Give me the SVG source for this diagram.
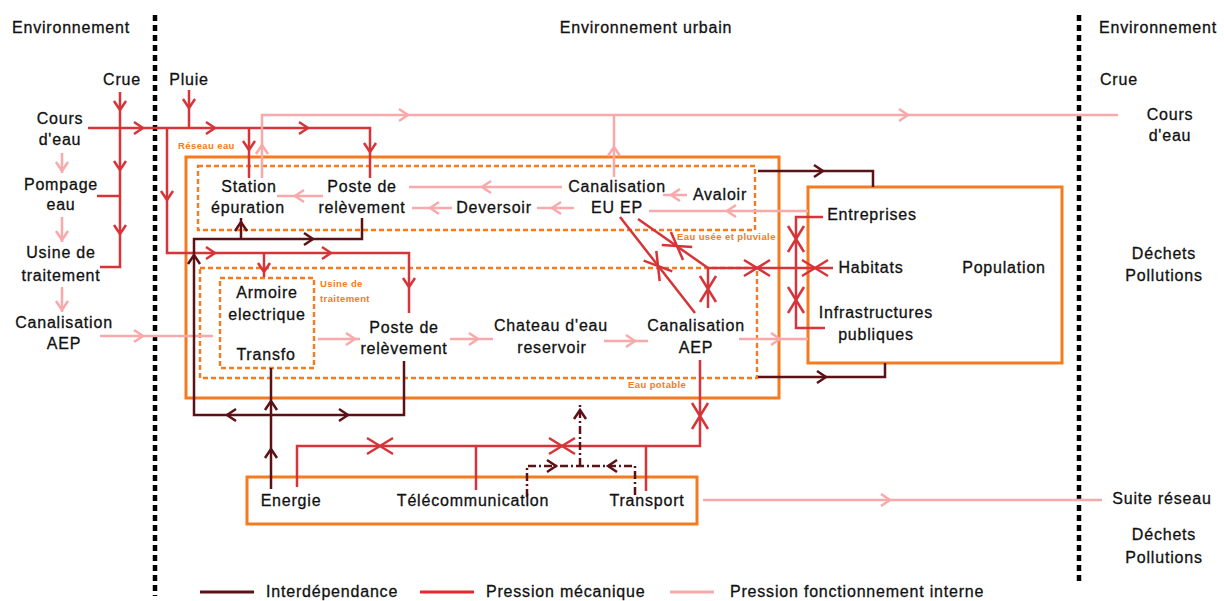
<svg xmlns="http://www.w3.org/2000/svg" width="1224" height="601" viewBox="0 0 1224 601">
<style>
text{font-family:"Liberation Sans",Arial,sans-serif;font-size:16px;letter-spacing:0.8px;fill:#111;stroke:#111;stroke-width:0.3px}
.m{text-anchor:middle}
.o{font-size:9.5px;font-weight:bold;fill:#f47b20;stroke:none;letter-spacing:0.4px}
.box{fill:none;stroke:#f47b20;stroke-width:3}
.dbox{fill:none;stroke:#f47b20;stroke-width:2.4;stroke-dasharray:5 3}
.r{fill:none;stroke:#d7343a;stroke-width:2.5}
.p{fill:none;stroke:#f8a9a9;stroke-width:2.5}
.d{fill:none;stroke:#5c1116;stroke-width:2.5}
.dd{stroke-dasharray:8 3 2 3}
.sep{fill:none;stroke:#000;stroke-width:4.5;stroke-dasharray:6 4}
</style>
<defs>
<path id="a" d="M-9,-6 L0,0 L-9,6"/>
<path id="x" d="M-13,-8 L13,8 M-13,8 L13,-8"/>
</defs>

<g id="separators">
<line class="sep" x1="155" y1="15" x2="155" y2="596"/>
<line class="sep" x1="1079" y1="15" x2="1079" y2="582"/>
</g>

<g id="zone-titles">
<text x="12" y="33">Environnement</text>
<text class="m" x="646" y="33">Environnement urbain</text>
<text x="1099" y="33">Environnement</text>
</g>

<g id="reseau-eau">
<rect class="box" x="186" y="157" width="593" height="241"/>
<text class="o" x="178" y="149">Réseau eau</text>
</g>
<g id="eau-usee">
<rect class="dbox" x="198" y="166" width="557" height="64"/>
<text class="o" x="677" y="240">Eau usée et pluviale</text>
</g>
<g id="eau-potable">
<rect class="dbox" x="200" y="268" width="557" height="110"/>
<text class="o" x="628" y="388">Eau potable</text>
</g>
<g id="usine-box">
<rect class="dbox" x="220" y="278" width="94" height="90"/>
<text class="o" x="320" y="287">Usine de</text>
<text class="o" x="320" y="302">traitement</text>
</g>
<g id="population-box">
<rect class="box" x="808" y="187" width="254" height="176"/>
</g>
<g id="services-box">
<rect class="box" x="247" y="477" width="450" height="47"/>
</g>

<g id="connectors">
<!-- pression mécanique -->
<path class="r" d="M88,128 H370 V178"/>
<path class="r" d="M249,128 V178"/>
<path class="r" d="M189,90 V128"/>
<path class="r" d="M120,92 V267 H100"/>
<path class="r" d="M97,196 H120"/>
<path class="r" d="M167,128 V253 H409 V313"/>
<path class="r" d="M264,253 V277"/>
<path class="r" d="M620,217 L695,313"/>
<path class="r" d="M638,219 L708,268 H833"/>
<path class="r" d="M708,268 V308"/>
<path class="r" d="M823,217 H796 V328 H825"/>
<path class="r" d="M700,360 V446 H297 V487"/>
<path class="r" d="M476,446 V490"/>
<path class="r" d="M646,446 V491"/>
<use href="#a" class="r" transform="translate(143,128)"/>
<use href="#a" class="r" transform="translate(215,128)"/>
<use href="#a" class="r" transform="translate(308,128)"/>
<use href="#a" class="r" transform="translate(370,152) rotate(90)"/>
<use href="#a" class="r" transform="translate(249,150) rotate(90)"/>
<use href="#a" class="r" transform="translate(189,108) rotate(90)"/>
<use href="#a" class="r" transform="translate(120,110) rotate(90)"/>
<use href="#a" class="r" transform="translate(120,170) rotate(90)"/>
<use href="#a" class="r" transform="translate(120,234) rotate(90)"/>
<use href="#a" class="r" transform="translate(167,200) rotate(90)"/>
<use href="#a" class="r" transform="translate(215,253)"/>
<use href="#a" class="r" transform="translate(331,253)"/>
<use href="#a" class="r" transform="translate(409,287) rotate(90)"/>
<use href="#a" class="r" transform="translate(264,272) rotate(90)"/>
<use href="#x" class="r" transform="translate(658,266) rotate(52)"/>
<use href="#x" class="r" transform="translate(677,246) rotate(35)"/>
<use href="#x" class="r" transform="translate(757,268)"/>
<use href="#x" class="r" transform="translate(815,268)"/>
<use href="#x" class="r" transform="translate(708,289) rotate(90)"/>
<use href="#x" class="r" transform="translate(796,239) rotate(90)"/>
<use href="#x" class="r" transform="translate(796,300) rotate(90)"/>
<use href="#x" class="r" transform="translate(700,416) rotate(90)"/>
<use href="#x" class="r" transform="translate(380,446)"/>
<use href="#x" class="r" transform="translate(562,446)"/>

<!-- pression fonctionnement interne -->
<path class="p" d="M262,178 V115 H1118"/>
<path class="p" d="M614,177 V115"/>
<path class="p" d="M687,195 H663"/>
<path class="p" d="M808,211 H649"/>
<path class="p" d="M562,187 H409"/>
<path class="p" d="M574,208 H537"/>
<path class="p" d="M452,208 H412"/>
<path class="p" d="M323,196 H277"/>
<path class="p" d="M62,153 V173 M62,217 V242 M62,287 V312"/>
<path class="p" d="M100,336 H213"/>
<path class="p" d="M318,339 H360"/>
<path class="p" d="M450,339 H493"/>
<path class="p" d="M604,341 H648"/>
<path class="p" d="M739,339 H808"/>
<path class="p" d="M703,500 H1102"/>
<use href="#a" class="p" transform="translate(262,145) rotate(-90)"/>
<use href="#a" class="p" transform="translate(614,147) rotate(-90)"/>
<use href="#a" class="p" transform="translate(408,115)"/>
<use href="#a" class="p" transform="translate(908,115)"/>
<use href="#a" class="p" transform="translate(671,195) rotate(180)"/>
<use href="#a" class="p" transform="translate(727,211) rotate(180)"/>
<use href="#a" class="p" transform="translate(482,187) rotate(180)"/>
<use href="#a" class="p" transform="translate(552,208) rotate(180)"/>
<use href="#a" class="p" transform="translate(430,208) rotate(180)"/>
<use href="#a" class="p" transform="translate(295,196) rotate(180)"/>
<use href="#a" class="p" transform="translate(62,171) rotate(90)"/>
<use href="#a" class="p" transform="translate(62,240) rotate(90)"/>
<use href="#a" class="p" transform="translate(62,310) rotate(90)"/>
<use href="#a" class="p" transform="translate(143,336)"/>
<use href="#a" class="p" transform="translate(355,339)"/>
<use href="#a" class="p" transform="translate(478,339)"/>
<use href="#a" class="p" transform="translate(635,341)"/>
<use href="#a" class="p" transform="translate(780,339)"/>
<use href="#a" class="p" transform="translate(890,500)"/>

<!-- interdépendance -->
<path class="d" d="M241,218 V239"/>
<path class="d" d="M362,218 V239 H194 V415 H404 V361"/>
<path class="d" d="M271,489 V368"/>
<path class="d" d="M758,171 H873 V187"/>
<path class="d" d="M758,377 H885 V363"/>
<path class="d dd" d="M527,497 V466 H635 V497 M580,466 V403"/>
<use href="#a" class="d" transform="translate(241,222) rotate(-90)"/>
<use href="#a" class="d" transform="translate(313,239)"/>
<use href="#a" class="d" transform="translate(194,255) rotate(-90)"/>
<use href="#a" class="d" transform="translate(227,415) rotate(180)"/>
<use href="#a" class="d" transform="translate(348,415)"/>
<use href="#a" class="d" transform="translate(271,401) rotate(-90)"/>
<use href="#a" class="d" transform="translate(271,449) rotate(-90)"/>
<use href="#a" class="d" transform="translate(823,171)"/>
<use href="#a" class="d" transform="translate(826,377)"/>
<use href="#a" class="d" transform="translate(556,466)"/>
<use href="#a" class="d" transform="translate(608,466) rotate(180)"/>
<use href="#a" class="d" transform="translate(580,410) rotate(-90)"/>
</g>

<g id="crue-left"><text class="m" x="122" y="85">Crue</text></g>
<g id="pluie"><text class="m" x="189" y="85">Pluie</text></g>
<g id="cours-eau-left"><text class="m" x="60" y="124">Cours</text><text class="m" x="60" y="145">d'eau</text></g>
<g id="pompage"><text class="m" x="61" y="190">Pompage</text><text class="m" x="61" y="210">eau</text></g>
<g id="usine-traitement"><text class="m" x="61" y="258">Usine de</text><text class="m" x="61" y="281">traitement</text></g>
<g id="canalisation-aep-left"><text class="m" x="64" y="328">Canalisation</text><text class="m" x="64" y="349">AEP</text></g>

<g id="station-epuration"><text class="m" x="249" y="192">Station</text><text class="m" x="248" y="213">épuration</text></g>
<g id="poste-releve-1"><text class="m" x="362" y="192">Poste de</text><text class="m" x="362" y="213">relèvement</text></g>
<g id="deversoir"><text class="m" x="494" y="213">Deversoir</text></g>
<g id="canalisation-eu-ep"><text class="m" x="617" y="192">Canalisation</text><text class="m" x="617" y="213">EU EP</text></g>
<g id="avaloir"><text class="m" x="720" y="200">Avaloir</text></g>

<g id="armoire"><text class="m" x="267" y="298">Armoire</text><text class="m" x="267" y="320">electrique</text></g>
<g id="transfo"><text class="m" x="266" y="360">Transfo</text></g>
<g id="poste-releve-2"><text class="m" x="404" y="333">Poste de</text><text class="m" x="404" y="354">relèvement</text></g>
<g id="chateau-eau"><text class="m" x="551" y="331">Chateau d'eau</text><text class="m" x="552" y="353">reservoir</text></g>
<g id="canalisation-aep"><text class="m" x="696" y="331">Canalisation</text><text class="m" x="696" y="353">AEP</text></g>

<g id="entreprises"><text class="m" x="872" y="220">Entreprises</text></g>
<g id="habitats"><text class="m" x="871" y="273">Habitats</text></g>
<g id="population"><text class="m" x="1004" y="273">Population</text></g>
<g id="infrastructures"><text class="m" x="876" y="318">Infrastructures</text><text class="m" x="876" y="340">publiques</text></g>

<g id="energie"><text class="m" x="291" y="506">Energie</text></g>
<g id="telecommunication"><text class="m" x="473" y="506">Télécommunication</text></g>
<g id="transport"><text class="m" x="647" y="506">Transport</text></g>

<g id="crue-right"><text x="1100" y="85">Crue</text></g>
<g id="cours-eau-right"><text class="m" x="1170" y="120">Cours</text><text class="m" x="1170" y="141">d'eau</text></g>
<g id="dechets-1"><text class="m" x="1164" y="259">Déchets</text><text class="m" x="1164" y="281">Pollutions</text></g>
<g id="suite-reseau"><text class="m" x="1162" y="504">Suite réseau</text></g>
<g id="dechets-2"><text class="m" x="1164" y="540">Déchets</text><text class="m" x="1164" y="563">Pollutions</text></g>

<g id="legend">
<line x1="200" y1="592" x2="254" y2="592" stroke="#5c1116" stroke-width="3"/>
<text x="266" y="597">Interdépendance</text>
<line x1="420" y1="592" x2="474" y2="592" stroke="#e8262c" stroke-width="3"/>
<text x="486" y="597">Pression mécanique</text>
<line x1="670" y1="592" x2="714" y2="592" stroke="#f8a9a9" stroke-width="3"/>
<text x="730" y="597">Pression fonctionnement interne</text>
</g>
</svg>
